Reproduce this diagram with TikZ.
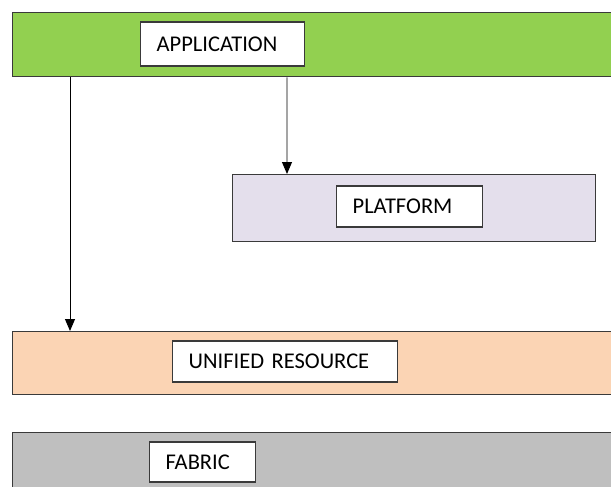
\documentclass[tikz,border=0pt]{standalone}
\usepackage{fontspec}
\setmainfont{Carlito}
\usetikzlibrary{arrows.meta}

\definecolor{appgreen}{HTML}{92D050}
\definecolor{platlilac}{HTML}{E4DFEC}
\definecolor{respeach}{HTML}{FBD4B4}
\definecolor{fabgray}{HTML}{BFBFBF}
\definecolor{edgegray}{HTML}{3A3A3A}

\tikzset{
  layer/.style={draw=edgegray, line width=0.75pt, anchor=north west, inner sep=0pt},
  lbl/.style={draw=edgegray, line width=0.75pt, fill=white, anchor=west, align=left,
    inner xsep=0.32cm, inner ysep=0pt, font=\fontsize{12.8}{15}\selectfont},
  arr/.style={-{Triangle[length=2.4mm,width=2mm]}, line width=0.55pt, black}
}

\begin{document}
\begin{tikzpicture}
% Set the canvas (1px = 0.02cm)
\clip (0,0) rectangle (12.22,-9.72);

% Layers
\node[layer, fill=appgreen, minimum width=12.4cm, minimum height=1.28cm] (appbar) at (0.24,-0.24) {};
\node[layer, fill=platlilac, minimum width=7.26cm, minimum height=1.34cm] (platbar) at (4.64,-3.48) {};
\node[layer, fill=respeach, minimum width=12.4cm, minimum height=1.26cm] (resbar) at (0.24,-6.62) {};
\node[layer, fill=fabgray, minimum width=12.4cm, minimum height=1.6cm] (fabbar) at (0.24,-8.64) {};

% Labels
\node[lbl, text width=2.64cm, minimum height=0.88cm] (appbox) at (2.8,-0.88) {APPLICATION};
\node[lbl, text width=2.28cm, minimum height=0.82cm] (platbox) at (6.72,-4.13) {PLATFORM};
\node[lbl, text width=3.86cm, minimum height=0.82cm] (resbox) at (3.44,-7.23) {UNIFIED RESOURCE};
\node[lbl, text width=1.48cm, minimum height=0.80cm] (fabbox) at (2.98,-9.24) {FABRIC};

% Arrows
\draw[arr] ([xshift=1.16cm]appbar.south west) -- ([xshift=1.16cm]resbar.north west);
\draw[arr] ([xshift=5.5cm]appbar.south west) -- ([xshift=1.1cm]platbar.north west);
\end{tikzpicture}
\end{document}
